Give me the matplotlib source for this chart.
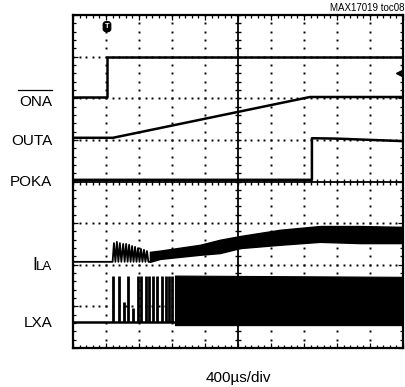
import matplotlib
matplotlib.use('Agg')
import matplotlib.pyplot as plt
import numpy as np
from matplotlib.lines import Line2D

plt.rcParams['font.family'] = ['Liberation Sans', 'DejaVu Sans']

W, H = 405, 387
DPI = 100

# ---- data (x in divisions, 400us/div; y in divisions, 8 div screen) ----
ona_t = [0, 1.02, 1.02, 10]
ona_v = [6.04, 6.04, 7.0, 7.0]

outa_t = [0, 1.21, 7.18, 10]
outa_v = [5.05, 5.05, 6.03, 6.03]

poka_t = [0, 7.24, 7.24, 8.0, 10]
poka_v = [4.04, 4.04, 5.04, 5.03, 4.97]

ila_base = 2.07
ila_burst_t = [1.24, 1.33, 1.42, 1.52, 1.61, 1.70, 1.79, 1.88, 1.97, 2.06, 2.15, 2.24]
ila_burst_peak = [2.52, 2.55, 2.52, 2.50, 2.50, 2.48, 2.45, 2.43, 2.40, 2.38, 2.36, 2.33]
ila_env_t = [2.33, 2.64, 3.85, 4.45, 5.06, 6.27, 7.48, 8.70, 10.0]
ila_env_top = [2.31, 2.34, 2.48, 2.60, 2.69, 2.84, 2.93, 2.93, 2.91]
ila_env_bot = [2.07, 2.14, 2.24, 2.28, 2.40, 2.48, 2.55, 2.52, 2.52]

lxa_base = 0.63
lxa_pulse_t = [1.21, 1.39, 1.55, 1.67, 1.82, 1.97, 2.06, 2.21, 2.30, 2.42, 2.55, 2.70, 2.82, 2.91, 3.00]
lxa_pulse_top = [1.73, 1.73, 1.10, 1.73, 0.95, 1.73, 1.73, 1.73, 1.73, 1.73, 1.73, 1.73, 1.73, 1.73, 1.73]
lxa_dense_t = [3.09, 10.0]
lxa_dense_top = [1.74, 1.71]
lxa_dense_bot = [0.55, 0.55]

labels = ['ONA', 'OUTA', 'POKA', 'LXA']
time_label = '400\u00b5s/div'
note = 'MAX17019 toc08'

# ---- figure ----
fig = plt.figure(figsize=(W / DPI, H / DPI), dpi=DPI)
L, R, T, B = 73, 403, 15, 348
ax = fig.add_axes([L / W, 1 - B / H, (R - L) / W, (B - T) / H])
ax.set_xlim(0, 10)
ax.set_ylim(0, 8)

# grid dots
for gx in [1, 2, 3, 4, 6, 7, 8, 9]:
    ys = np.arange(0, 8.001, 0.2)
    ax.plot(np.full_like(ys, gx), ys, ls='none', marker='s', ms=1.4, color='black', mew=0)
for gy in [1, 2, 3, 5, 6, 7]:
    xs = np.arange(0, 10.001, 0.2)
    ax.plot(xs, np.full_like(xs, gy), ls='none', marker='s', ms=1.4, color='black', mew=0)

# center cross with ticks
ax.axvline(5, color='black', lw=1.3)
ax.axhline(4, color='black', lw=1.3)
ys = np.arange(0, 8.001, 0.2)
ax.plot(np.full_like(ys, 5), ys, ls='none', marker='_', ms=4.5, mew=1.0, color='black')
xs = np.arange(0, 10.001, 0.2)
ax.plot(xs, np.full_like(xs, 4), ls='none', marker='|', ms=4.5, mew=1.0, color='black')

tw = 1.8
ax.plot(ona_t, ona_v, color='black', lw=tw)
ax.plot(outa_t, outa_v, color='black', lw=tw)
ax.plot(poka_t, poka_v, color='black', lw=tw)

# ILA
zx = [0, ila_burst_t[0] - 0.04]
zy = [ila_base, ila_base]
for i, (bt, bp) in enumerate(zip(ila_burst_t, ila_burst_peak)):
    zx += [bt, bt + 0.045]
    zy += [bp, ila_base]
zx += [ila_env_t[0]]
zy += [ila_env_bot[0]]
ax.plot(zx, zy, color='black', lw=1.3)
ax.fill_between(ila_env_t, ila_env_bot, ila_env_top, color='black', lw=1.0, edgecolor='black')

# LXA
ax.plot([0, lxa_dense_t[0]], [lxa_base, lxa_base], color='black', lw=tw)
ax.vlines(lxa_pulse_t, lxa_base, lxa_pulse_top, color='black', lw=2.0)
ax.fill_between(lxa_dense_t, lxa_dense_bot, lxa_dense_top, color='black', lw=0.8, edgecolor='black')

# trigger marker and level arrow
ax.text(1.03, 7.72, 'T', color='white', fontsize=5.5, fontweight='bold', ha='center', va='center',
        bbox=dict(boxstyle='round,pad=0.18,rounding_size=0.35', fc='black', ec='black'))
ax.plot([9.87], [6.61], marker='<', ms=5, color='black', clip_on=False)

# frame and ticks
for s in ax.spines.values():
    s.set_linewidth(1.6)
ax.set_xticks(range(11))
ax.set_yticks(range(9))
ax.set_xticks(np.arange(0, 10.001, 0.2), minor=True)
ax.set_yticks(np.arange(0, 8.001, 0.2), minor=True)
ax.tick_params(which='both', direction='in', top=True, right=True, bottom=True, left=True,
               labelbottom=False, labelleft=False, width=0.9)
ax.tick_params(which='major', length=3.5)
ax.tick_params(which='minor', length=2.5)

# labels
fs = 11
xr = 52 / W
def fy(py):
    return 1 - py / H
fig.text(xr, fy(106), labels[0], ha='right', va='baseline', fontsize=fs)
fig.add_artist(Line2D([18 / W, 52 / W], [fy(90), fy(90)], color='black', lw=0.9))
fig.text(xr, fy(145), labels[1], ha='right', va='baseline', fontsize=fs)
fig.text(xr, fy(186), labels[2], ha='right', va='baseline', fontsize=fs)
fig.text(37 / W, fy(270), 'I', ha='right', va='baseline', fontsize=13)
fig.text(xr, fy(270), 'LA', ha='right', va='baseline', fontsize=9.5)
fig.text(xr, fy(327), labels[3], ha='right', va='baseline', fontsize=fs)

fig.text(238 / W, fy(382), time_label, ha='center', va='baseline', fontsize=fs)
fig.text(404 / W, fy(11), note, ha='right', va='baseline', fontsize=7)

fig.savefig('out.png', dpi=DPI)
